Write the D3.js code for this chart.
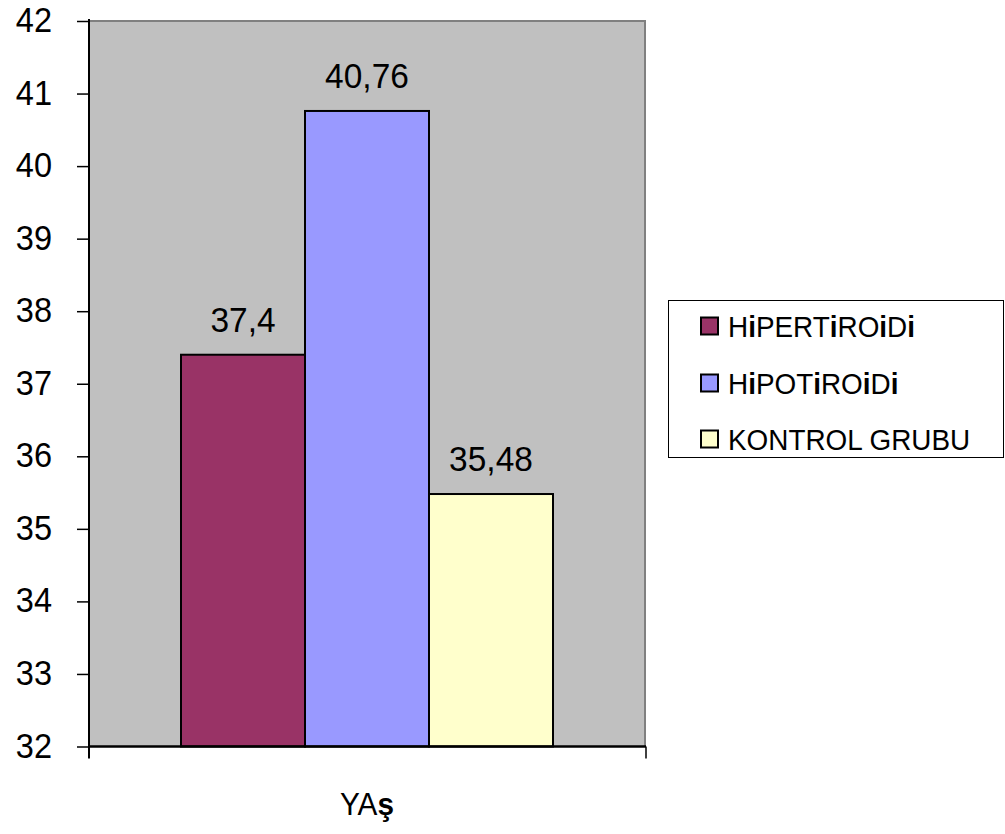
<!DOCTYPE html>
<html><head><meta charset="utf-8">
<script src="https://cdn.jsdelivr.net/npm/d3@7"></script>
<style>body{margin:0;background:#fff}svg{display:block}text{font-family:"Liberation Sans",Arial,sans-serif;fill:#000}</style>
</head><body><svg id="c" width="1005" height="834"></svg>
<script>
const categories = ["YAŞ"];
const seriesNames = ["HİPERTİROİDİ", "HİPOTİROİDİ", "KONTROL GRUBU"];
const seriesValues = [37.4, 40.76, 35.48];
const valueLabels = ["37,4", "40,76", "35,48"];
const seriesColors = ["#993366", "#9999FF", "#FFFFCC"];
const yTicks = [32,33,34,35,36,37,38,39,40,41,42];

const SX = 0.93;
const svg = d3.select("#c");
const L=89, R=645, T=21, B=746.5;
const y = d3.scaleLinear().domain([32,42]).range([B,T]);
const x0 = d3.scaleBand().domain(categories).range([L,R]);
const x1 = d3.scaleBand().domain(d3.range(seriesValues.length)).range([181,553]);

// plot area
svg.append("rect").attr("x",L).attr("y",T).attr("width",R-L).attr("height",B-T).attr("fill","#C0C0C0");
svg.append("path").attr("d",`M${L},${T}H${R}V${B}`).attr("fill","none").attr("stroke","#808080").attr("stroke-width",2);

// bars
svg.selectAll("rect.bar").data(seriesValues).join("rect").attr("class","bar")
  .attr("x",(d,i)=>x1(i)).attr("width",x1.bandwidth())
  .attr("y",d=>y(d)).attr("height",d=>B-y(d))
  .attr("fill",(d,i)=>seriesColors[i]).attr("stroke","#000").attr("stroke-width",2);

// value labels
svg.selectAll("text.val").data(seriesValues).join("text").attr("class","val")
  .attr("transform",(d,i)=>`translate(${x1(i)+x1.bandwidth()/2},${y(d)-23}) scale(${SX},1)`)
  .attr("text-anchor","middle").attr("font-size",36).text((d,i)=>valueLabels[i]);

// y axis
const ya = svg.append("g").attr("transform",`translate(${L},0)`)
  .call(d3.axisLeft(y).tickValues(yTicks).tickSize(12).tickFormat(d3.format("d")));
ya.select(".domain").remove();
ya.selectAll(".tick line").attr("stroke","#000").attr("stroke-width",1.5);
ya.selectAll(".tick text").attr("font-size",35).attr("font-family",null)
  .attr("x",0).attr("dy","0.3em").attr("text-anchor","end")
  .attr("transform",`translate(-37,0) scale(${SX},1)`);
svg.append("line").attr("x1",L).attr("x2",L).attr("y1",T-2).attr("y2",B+12).attr("stroke","#000").attr("stroke-width",2);

// x axis
svg.append("line").attr("x1",L).attr("x2",R+1).attr("y1",B).attr("y2",B).attr("stroke","#000").attr("stroke-width",2.5);
svg.append("line").attr("x1",R+1).attr("x2",R+1).attr("y1",B).attr("y2",B+12).attr("stroke","#000").attr("stroke-width",1.5);
const xl = svg.append("text")
  .attr("transform",`translate(${x0(categories[0])+x0.bandwidth()/2},815) scale(${SX},1)`)
  .attr("text-anchor","middle").attr("font-size",32);
xl.append("tspan").text("YA");
xl.append("tspan").attr("font-weight","bold").text("ş");

// legend
const lg = svg.append("g");
lg.append("rect").attr("x",668.5).attr("y",300.5).attr("width",335).attr("height",157).attr("fill","#fff").attr("stroke","#000").attr("stroke-width",1);
const legendParts = [
  [["H",0],["i",1],["PERT",0],["i",1],["RO",0],["i",1],["D",0],["i",1]],
  [["H",0],["i",1],["POT",0],["i",1],["RO",0],["i",1],["D",0],["i",1]],
  [["KONTROL GRUBU",0]]
];
const rowY = [326, 383, 439];
seriesNames.forEach((n,i)=>{
  lg.append("rect").attr("x",701).attr("y",rowY[i]-8.5).attr("width",17).attr("height",17)
    .attr("fill",seriesColors[i]).attr("stroke","#000").attr("stroke-width",2);
  const t = lg.append("text").attr("transform",`translate(728,${rowY[i]}) scale(${SX},1)`)
    .attr("dy","0.36em").attr("font-size",30);
  legendParts[i].forEach(p=>t.append("tspan").attr("font-weight",p[1]?"bold":null).text(p[0]));
});
</script></body></html>
